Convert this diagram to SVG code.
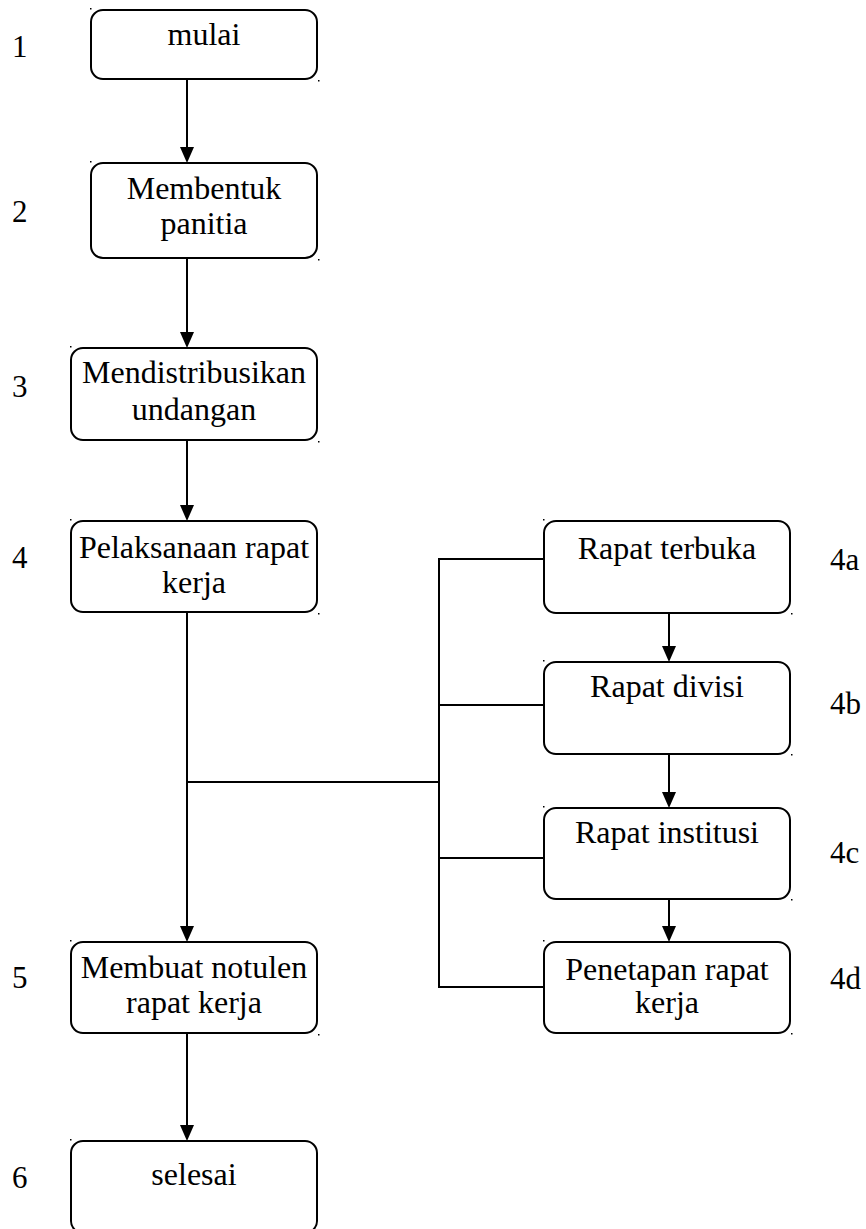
<svg xmlns="http://www.w3.org/2000/svg" width="866" height="1229" viewBox="0 0 866 1229">
<style>
.box{fill:#fff;stroke:#000;stroke-width:2}
.t{font-family:'Liberation Serif',serif;font-size:32px;fill:#000;text-anchor:middle}
.n{font-family:'Liberation Serif',serif;font-size:31px;fill:#000}
.ln{fill:none;stroke:#000;stroke-width:2}
.dot{fill:#000}
</style>
<g id="connectors">
<line class="ln" x1="187" y1="79" x2="187" y2="155"/>
<line class="ln" x1="187" y1="258" x2="187" y2="340"/>
<line class="ln" x1="187" y1="440" x2="187" y2="513"/>
<line class="ln" x1="187" y1="612" x2="187" y2="934"/>
<line class="ln" x1="187" y1="1033" x2="187" y2="1133"/>
<line class="ln" x1="186" y1="782" x2="440" y2="782"/>
<line class="ln" x1="439" y1="558" x2="439" y2="988"/>
<line class="ln" x1="438" y1="559" x2="544" y2="559"/>
<line class="ln" x1="438" y1="705" x2="544" y2="705"/>
<line class="ln" x1="438" y1="858" x2="544" y2="858"/>
<line class="ln" x1="438" y1="987" x2="544" y2="987"/>
<line class="ln" x1="669" y1="613" x2="669" y2="654"/>
<line class="ln" x1="669" y1="754" x2="669" y2="800"/>
<line class="ln" x1="669" y1="900" x2="669" y2="934"/>
<g class="dot">
<path d="M180,147 L194,147 L187,163 Z"/>
<path d="M180,332 L194,332 L187,348 Z"/>
<path d="M180,505 L194,505 L187,521 Z"/>
<path d="M180,926 L194,926 L187,942 Z"/>
<path d="M180,1125 L194,1125 L187,1141 Z"/>
<path d="M662,646 L676,646 L669,662 Z"/>
<path d="M662,792 L676,792 L669,808 Z"/>
<path d="M662,926 L676,926 L669,942 Z"/>
</g>
</g>
<g id="n1">
<rect class="box" x="91" y="10" width="226" height="69" rx="12"/>
<rect class="dot" x="90" y="8" width="1.5" height="1.5"/><rect class="dot" x="318" y="80" width="1.5" height="1.5"/>
<text class="t" x="204" y="45">mulai</text>
</g>
<g id="n2">
<rect class="box" x="91" y="163" width="226" height="95" rx="12"/>
<rect class="dot" x="90" y="161" width="1.5" height="1.5"/><rect class="dot" x="318" y="259" width="1.5" height="1.5"/>
<text class="t" x="204" y="199">Membentuk</text>
<text class="t" x="204" y="234">panitia</text>
</g>
<g id="n3">
<rect class="box" x="71" y="348" width="246" height="92" rx="12"/>
<rect class="dot" x="70" y="346" width="1.5" height="1.5"/><rect class="dot" x="318" y="441" width="1.5" height="1.5"/>
<text class="t" x="194" y="383">Mendistribusikan</text>
<text class="t" x="194" y="420">undangan</text>
</g>
<g id="n4">
<rect class="box" x="71" y="521" width="246" height="91" rx="12"/>
<rect class="dot" x="70" y="519" width="1.5" height="1.5"/><rect class="dot" x="318" y="613" width="1.5" height="1.5"/>
<text class="t" x="194" y="558">Pelaksanaan rapat</text>
<text class="t" x="194" y="593">kerja</text>
</g>
<g id="n5">
<rect class="box" x="71" y="942" width="246" height="91" rx="12"/>
<rect class="dot" x="70" y="940" width="1.5" height="1.5"/><rect class="dot" x="318" y="1034" width="1.5" height="1.5"/>
<text class="t" x="194" y="978">Membuat notulen</text>
<text class="t" x="194" y="1013">rapat kerja</text>
</g>
<g id="n6">
<rect class="box" x="71" y="1141" width="246" height="92" rx="12"/>
<rect class="dot" x="70" y="1139" width="1.5" height="1.5"/>
<text class="t" x="194" y="1185">selesai</text>
</g>
<g id="n4a">
<rect class="box" x="544" y="521" width="246" height="92" rx="12"/>
<rect class="dot" x="543" y="519" width="1.5" height="1.5"/><rect class="dot" x="791" y="613" width="1.5" height="1.5"/>
<text class="t" x="667" y="559">Rapat terbuka</text>
</g>
<g id="n4b">
<rect class="box" x="544" y="662" width="246" height="92" rx="12"/>
<rect class="dot" x="543" y="660" width="1.5" height="1.5"/><rect class="dot" x="791" y="754" width="1.5" height="1.5"/>
<text class="t" x="667" y="697">Rapat divisi</text>
</g>
<g id="n4c">
<rect class="box" x="544" y="808" width="246" height="91" rx="12"/>
<rect class="dot" x="543" y="806" width="1.5" height="1.5"/><rect class="dot" x="791" y="899" width="1.5" height="1.5"/>
<text class="t" x="667" y="843">Rapat institusi</text>
</g>
<g id="n4d">
<rect class="box" x="544" y="942" width="246" height="91" rx="12"/>
<rect class="dot" x="543" y="940" width="1.5" height="1.5"/><rect class="dot" x="791" y="1033" width="1.5" height="1.5"/>
<text class="t" x="667" y="980">Penetapan rapat</text>
<text class="t" x="667" y="1013">kerja</text>
</g>
<g id="labels">
<text class="n" x="12" y="57">1</text>
<text class="n" x="12" y="222">2</text>
<text class="n" x="12" y="397">3</text>
<text class="n" x="12" y="568">4</text>
<text class="n" x="12" y="988">5</text>
<text class="n" x="12" y="1188">6</text>
<text class="n" x="830" y="570">4a</text>
<text class="n" x="830" y="714">4b</text>
<text class="n" x="830" y="863">4c</text>
<text class="n" x="830" y="989">4d</text>
</g>
</svg>
